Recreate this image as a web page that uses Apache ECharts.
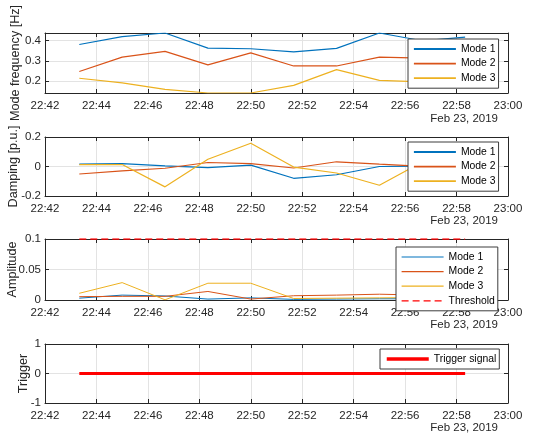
<!DOCTYPE html>
<html>
<head>
<meta charset="utf-8">
<script src="https://cdn.jsdelivr.net/npm/echarts@6/dist/echarts.min.js"></script>
<style>
html, body { margin: 0; padding: 0; background: #fff; }
#container { width: 550px; height: 441px; }
</style>
</head>
<body>
<div id="container"></div>
<script>
// sample times, one estimate every 100 s
var times = ['22:43:20', '22:45:00', '22:46:40', '22:48:20', '22:50:00', '22:51:40', '22:53:20', '22:55:00', '22:56:40', '22:58:20'];
var xTickLabels = ['22:42', '22:44', '22:46', '22:48', '22:50', '22:52', '22:54', '22:56', '22:58', '23:00'];
var dateLabel = 'Feb 23, 2019';

// mode frequency [Hz]
var freq1 = [0.380, 0.418, 0.436, 0.362, 0.359, 0.344, 0.361, 0.436, 0.398, 0.416];
var freq2 = [0.248, 0.318, 0.346, 0.280, 0.339, 0.275, 0.275, 0.318, 0.313, 0.310];
var freq3 = [0.215, 0.192, 0.161, 0.143, 0.143, 0.180, 0.257, 0.205, 0.197, 0.190];
// damping [p.u.]
var damp1 = [0.016, 0.020, 0.004, -0.007, 0.009, -0.080, -0.056, 0.000, 0.003, 0.002];
var damp2 = [-0.051, -0.030, -0.012, 0.027, 0.020, -0.010, 0.032, 0.016, 0.001, 0.000];
var damp3 = [0.013, 0.013, -0.138, 0.049, 0.158, -0.004, -0.044, -0.127, 0.030, 0.020];
// amplitude
var amp1 = [0.003, 0.008, 0.0066, 0.0015, 0.0035, 0.001, 0.0015, 0.002, 0.002, 0.002];
var amp2 = [0.0055, 0.006, 0.006, 0.014, 0.0015, 0.007, 0.008, 0.0095, 0.008, 0.007];
var amp3 = [0.011, 0.0285, 0.0003, 0.0275, 0.0275, 0.0025, 0.003, 0.0035, 0.004, 0.004];
var threshold = [0.1, 0.1, 0.1, 0.1, 0.1, 0.1, 0.1, 0.1, 0.1, 0.1];
// trigger signal
var trigger = [0, 0, 0, 0, 0, 0, 0, 0, 0, 0];

var fontName = 'Liberation Sans';
var txtColor = '#262626';
var modeColors = ['#0072BD', '#D95319', '#EDB120'];

function toSec(s) {
    var p = s.split(':');
    return parseInt(p[0]) * 3600 + parseInt(p[1]) * 60 + (p.length > 2 ? parseInt(p[2]) : 0);
}
function pad(n) { return n < 10 ? '0' + n : '' + n; }
function fmtTime(v) {
    return pad(Math.floor(v / 3600)) + ':' + pad(Math.floor((v % 3600) / 60));
}
function pairs(vals) {
    var out = [];
    for (var i = 0; i < times.length; i++) out.push([toSec(times[i]), vals[i]]);
    return out;
}

var xMin = toSec(xTickLabels[0]);
var xMax = toSec(xTickLabels[xTickLabels.length - 1]);
var xStep = toSec(xTickLabels[1]) - xMin;
var allFreq = freq1.concat(freq2, freq3);

var panels = [
    { top: 33, height: 60, title: 'Mode frequency [Hz]', nameGap: 23, dateY: 120,
      y: { min: Math.min.apply(null, allFreq), max: Math.max.apply(null, allFreq), splitNumber: 3, hideEnds: true },
      lines: [['Mode 1', freq1, modeColors[0], 1.2], ['Mode 2', freq2, modeColors[1], 1.2], ['Mode 3', freq3, modeColors[2], 1.2]],
      legend: { left: 408, top: 39, lineW: 1.8 } },
    { top: 137, height: 59, title: 'Damping [p.u.]', nameGap: 25, dateY: 222,
      y: { min: -0.2, max: 0.2, interval: 0.2 },
      lines: [['Mode 1', damp1, modeColors[0], 1.2], ['Mode 2', damp2, modeColors[1], 1.2], ['Mode 3', damp3, modeColors[2], 1.2]],
      legend: { left: 408, top: 142, lineW: 1.8 } },
    { top: 239, height: 61, title: 'Amplitude', nameGap: 26, dateY: 326,
      y: { min: 0, max: 0.1, interval: 0.05 },
      lines: [['Mode 1', amp1, modeColors[0], 1], ['Mode 2', amp2, modeColors[1], 1], ['Mode 3', amp3, modeColors[2], 1],
              ['Threshold', threshold, '#FF0000', 1.5, [7, 4]]],
      legend: { left: 396, top: 247, lineW: 1.2 } },
    { top: 344, height: 59, title: 'Trigger', nameGap: 15, dateY: 429,
      y: { min: -1, max: 1, interval: 1 },
      lines: [['Trigger signal', trigger, '#FF0000', 3]],
      legend: { left: 380, top: 349, lineW: 3.5 } }
];

var option = {
    animation: false,
    backgroundColor: '#fff',
    textStyle: { fontFamily: fontName, color: txtColor },
    grid: [], xAxis: [], yAxis: [], series: [], legend: [], graphic: []
};

panels.forEach(function (p, i) {
    option.grid.push({ left: 45, right: 42, top: p.top, height: p.height, containLabel: false, outerBoundsMode: 'none' });
    var axLine = { show: true, onZero: false, lineStyle: { color: txtColor, width: 1 } };
    var tick = { show: true, inside: true, length: 4, lineStyle: { color: txtColor } };
    // bottom time axis with labels and grid lines
    option.xAxis.push({
        type: 'value', gridIndex: i, min: xMin, max: xMax, interval: xStep, position: 'bottom',
        axisLine: axLine, axisTick: tick,
        axisLabel: { fontSize: 11.5, color: txtColor, fontFamily: fontName, margin: 7, formatter: fmtTime },
        splitLine: { show: true, lineStyle: { color: '#e3e3e3' } }
    });
    // top copy for the box
    option.xAxis.push({
        type: 'value', gridIndex: i, min: xMin, max: xMax, interval: xStep, position: 'top',
        axisLine: axLine, axisTick: tick, axisLabel: { show: false }, splitLine: { show: false }
    });
    var yBase = { type: 'value', gridIndex: i, min: p.y.min, max: p.y.max };
    if (p.y.interval) yBase.interval = p.y.interval;
    if (p.y.splitNumber) yBase.splitNumber = p.y.splitNumber;
    option.yAxis.push(Object.assign({}, yBase, {
        position: 'left', name: p.title, nameLocation: 'middle', nameGap: p.nameGap, nameRotate: 90,
        nameMoveOverlap: false,
        nameTextStyle: { fontSize: 12.6, color: txtColor, fontFamily: fontName },
        axisLine: axLine, axisTick: tick,
        axisLabel: { fontSize: 11.5, color: txtColor, fontFamily: fontName, margin: 4,
                     showMinLabel: !p.y.hideEnds, showMaxLabel: !p.y.hideEnds },
        splitLine: { show: true, lineStyle: { color: '#e3e3e3' } }
    }));
    option.yAxis.push(Object.assign({}, yBase, {
        position: 'right', axisLine: axLine, axisTick: tick,
        axisLabel: { show: false }, splitLine: { show: false }
    }));

    var items = [];
    p.lines.forEach(function (l) {
        items.push({ name: l[0], itemStyle: { opacity: 0 },
                     lineStyle: { color: l[2], width: p.legend.lineW, type: l[4] || 'solid', opacity: 1 } });
        option.series.push({
            name: l[0], type: 'line', xAxisIndex: 2 * i, yAxisIndex: 2 * i,
            data: pairs(l[1]), symbol: 'none', color: l[2],
            lineStyle: { color: l[2], width: l[3], type: l[4] || 'solid' },
            emphasis: { disabled: true }
        });
    });

    option.legend.push({
        data: items, orient: 'vertical', left: p.legend.left, top: p.legend.top,
        itemWidth: 42, itemHeight: 10, itemGap: 4.6,
        padding: [5, 3, 5, 5],
        backgroundColor: '#fff', borderColor: '#3c3c3c', borderWidth: 1,
        textStyle: { fontSize: 10.4, color: '#000', fontFamily: fontName }
    });

    option.graphic.push({
        type: 'text', right: 52, top: p.dateY - 7,
        style: { text: dateLabel, fontSize: 11.5, fill: txtColor, fontFamily: fontName }
    });
});

var myChart = echarts.init(document.getElementById('container'));
myChart.setOption(option);
</script>
</body>
</html>
